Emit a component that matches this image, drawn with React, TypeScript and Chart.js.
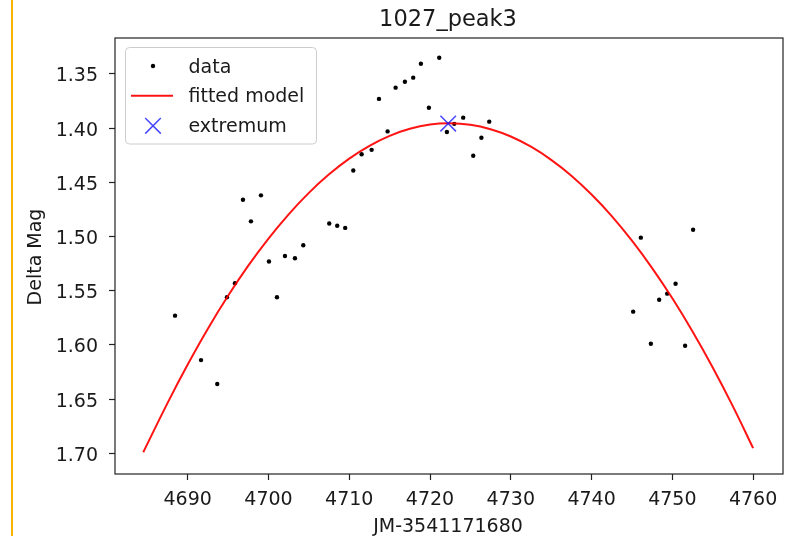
import React, { useEffect, useRef } from "react";
import { Chart, registerables } from "chart.js";

Chart.register(...registerables);

const titleText = "1027_peak3";
const xAxisLabel = "JM-3541171680";
const yAxisLabel = "Delta Mag";

const xTicks = [4690, 4700, 4710, 4720, 4730, 4740, 4750, 4760];
const yTicks = [1.35, 1.4, 1.45, 1.5, 1.55, 1.6, 1.65, 1.7];

const dataX = [
  4688.43, 4691.65, 4693.66, 4694.86, 4695.85, 4696.84, 4697.83, 4699.07, 4700.06, 4701.05,
  4702.04, 4703.28, 4704.31, 4707.52, 4708.51, 4709.5, 4710.5, 4711.53, 4712.77, 4713.68,
  4714.75, 4715.74, 4716.89, 4717.92, 4718.87, 4719.86, 4721.14, 4722.09, 4723.0, 4724.11,
  4725.35, 4726.36, 4727.33, 4745.15, 4746.1, 4747.34, 4748.37, 4749.36, 4750.4, 4751.58,
  4752.57,
];
const dataY = [
  1.573, 1.614, 1.636, 1.556, 1.543, 1.466, 1.486, 1.462, 1.523, 1.556,
  1.518, 1.52, 1.508, 1.488, 1.49, 1.492, 1.439, 1.424, 1.42, 1.373,
  1.403, 1.3626, 1.3571, 1.3534, 1.3405, 1.3811, 1.335, 1.4035, 1.396, 1.3903,
  1.4254, 1.4088, 1.394, 1.5693, 1.501, 1.5989, 1.5583, 1.5527, 1.5435, 1.6007,
  1.4937,
];

const modelX = [
  4684.5, 4687.5, 4690, 4692.5, 4695, 4697.5, 4700, 4702.5, 4705, 4707.5, 4710, 4712.5, 4715,
  4717.5, 4720, 4722.4, 4725, 4727.5, 4730, 4732.5, 4735, 4737.5, 4740, 4742.5, 4745, 4747.5,
  4750, 4752.5, 4755, 4757.5, 4760,
];
const modelY = [
  1.699, 1.6537, 1.6181, 1.585, 1.5547, 1.5269, 1.5019, 1.4795, 1.4597, 1.4426, 1.4281, 1.4163,
  1.4071, 1.4006, 1.3967, 1.3955, 1.3969, 1.401, 1.4077, 1.4171, 1.4292, 1.4438, 1.4612, 1.4811,
  1.5038, 1.5291, 1.557, 1.5876, 1.6208, 1.6567, 1.6952,
];

const extremumX = [4722.25];
const extremumY = [1.3958];

const FONT = '"DejaVu Sans", "Liberation Sans", sans-serif';
const TEXT = "#1a1a1a";
const RED = "rgba(255,0,0,0.92)";
const BLUE = "rgba(0,0,255,0.72)";

export default function App() {
  const ref = useRef<HTMLCanvasElement>(null);

  useEffect(() => {
    const canvas = ref.current;
    if (!canvas) return;

    const decor = {
      id: "decor",
      afterDatasetsDraw(chart: any) {
        const { ctx, chartArea: ca } = chart;
        ctx.save();
        ctx.strokeStyle = "#222";
        ctx.lineWidth = 1.2;
        ctx.strokeRect(ca.left, ca.top, ca.right - ca.left, ca.bottom - ca.top);
        ctx.restore();
      },
      afterDraw(chart: any) {
        const { ctx, chartArea: ca } = chart;
        const cx = (ca.left + ca.right) / 2;
        ctx.save();
        ctx.fillStyle = TEXT;
        ctx.textAlign = "center";
        ctx.textBaseline = "alphabetic";
        ctx.font = `22.5px ${FONT}`;
        ctx.fillText(titleText, cx - 1, 26);
        ctx.font = `19px ${FONT}`;
        ctx.fillText(xAxisLabel, cx - 1, 532);
        ctx.save();
        ctx.translate(41, (ca.top + ca.bottom) / 2 + 1);
        ctx.rotate(-Math.PI / 2);
        ctx.fillText(yAxisLabel, 0, 0);
        ctx.restore();

        // legend
        const lx = 125.5, ly = 47.5, lw = 191, lh = 96.5;
        ctx.beginPath();
        (ctx as any).roundRect(lx, ly, lw, lh, 4);
        ctx.fillStyle = "rgba(255,255,255,0.8)";
        ctx.fill();
        ctx.strokeStyle = "#cccccc";
        ctx.lineWidth = 1;
        ctx.stroke();

        const ds = chart.data.datasets;
        const rows = [66, 95.8, 125.8];
        ctx.beginPath();
        ctx.fillStyle = "#000";
        ctx.arc(153, rows[0], 2.2, 0, Math.PI * 2);
        ctx.fill();
        ctx.beginPath();
        ctx.strokeStyle = RED;
        ctx.lineWidth = 2;
        ctx.moveTo(131, rows[1]);
        ctx.lineTo(173, rows[1]);
        ctx.stroke();
        ctx.beginPath();
        ctx.strokeStyle = BLUE;
        ctx.lineWidth = 1.5;
        const h = 7.8;
        ctx.moveTo(153 - h, rows[2] - h);
        ctx.lineTo(153 + h, rows[2] + h);
        ctx.moveTo(153 - h, rows[2] + h);
        ctx.lineTo(153 + h, rows[2] - h);
        ctx.stroke();

        ctx.fillStyle = TEXT;
        ctx.textAlign = "left";
        ctx.font = `19px ${FONT}`;
        ctx.fillText(ds[0].label, 188.5, rows[0] + 6.5);
        ctx.fillText(ds[1].label, 188.5, rows[1] + 6.5);
        ctx.fillText(ds[2].label, 188.5, rows[2] + 6.5);
        ctx.restore();
      },
    };

    const chart = new Chart(canvas, {
      type: "scatter",
      data: {
        datasets: [
          {
            label: "data",
            data: dataX.map((x, i) => ({ x, y: dataY[i] })),
            pointRadius: 2.2,
            pointHoverRadius: 2.2,
            pointBackgroundColor: "#000",
            pointBorderWidth: 0,
            borderColor: "#000",
            showLine: false,
            order: 3,
          },
          {
            label: "fitted model",
            data: modelX.map((x, i) => ({ x, y: modelY[i] })),
            showLine: true,
            borderColor: RED,
            borderWidth: 2,
            pointRadius: 0,
            tension: 0.4,
            fill: false,
            order: 2,
          },
          {
            label: "extremum",
            data: extremumX.map((x, i) => ({ x, y: extremumY[i] })),
            pointStyle: "crossRot",
            pointRadius: 11,
            pointBorderColor: BLUE,
            borderColor: BLUE,
            pointBorderWidth: 1.5,
            showLine: false,
            order: 1,
          },
        ],
      } as any,
      options: {
        responsive: false,
        animation: false,
        devicePixelRatio: 1,
        events: [],
        layout: { autoPadding: false, padding: { left: 0, top: 38, right: 2, bottom: 0 } },
        plugins: {
          legend: { display: false },
          title: { display: false },
          tooltip: { enabled: false },
        },
        scales: {
          x: {
            type: "linear",
            min: 4681.0,
            max: 4763.7,
            afterFit: (s: any) => {
              s.height = 62;
              s.paddingLeft = 0;
              s.paddingRight = 0;
            },
            afterBuildTicks: (s: any) => {
              s.ticks = xTicks.map((v) => ({ value: v }));
            },
            ticks: {
              color: TEXT,
              font: { family: FONT, size: 19 },
              padding: 9,
              maxRotation: 0,
              autoSkip: false,
              callback: (v: any) => String(v),
            },
            grid: {
              drawOnChartArea: false,
              drawTicks: true,
              tickLength: 6,
              tickColor: "#222",
              tickWidth: 1.2,
            },
            border: { display: false },
          },
          y: {
            type: "linear",
            reverse: true,
            min: 1.3168,
            max: 1.7191,
            afterFit: (s: any) => {
              s.width = 115;
              s.paddingTop = 0;
              s.paddingBottom = 0;
            },
            afterBuildTicks: (s: any) => {
              s.ticks = yTicks.map((v) => ({ value: v }));
            },
            ticks: {
              color: TEXT,
              font: { family: FONT, size: 19 },
              padding: 11,
              labelOffset: 2.5,
              autoSkip: false,
              callback: (v: any) => Number(v).toFixed(2),
            },
            grid: {
              drawOnChartArea: false,
              drawTicks: true,
              tickLength: 6,
              tickColor: "#222",
              tickWidth: 1.2,
            },
            border: { display: false },
          },
        },
      } as any,
      plugins: [decor],
    });

    return () => chart.destroy();
  }, []);

  return (
    <div
      style={{
        position: "absolute",
        left: 0,
        top: 0,
        width: 785,
        height: 536,
        background: "#fff",
        overflow: "hidden",
      }}
    >
      <div
        style={{
          position: "absolute",
          left: 11,
          top: 0,
          width: 2,
          height: 536,
          background: "#f7b500",
        }}
      />
      <canvas
        ref={ref}
        width={785}
        height={536}
        style={{ position: "absolute", left: 0, top: 0, width: 785, height: 536 }}
      />
    </div>
  );
}
